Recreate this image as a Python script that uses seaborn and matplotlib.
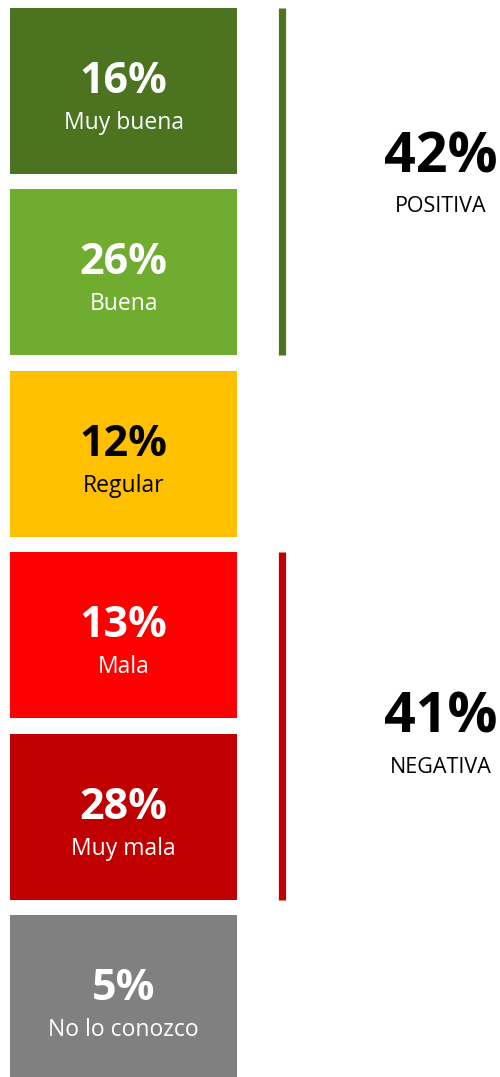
import matplotlib
matplotlib.use("Agg")
import matplotlib.pyplot as plt
import seaborn as sns
import pandas as pd

categories = ["Muy buena", "Buena", "Regular", "Mala", "Muy mala", "No lo conozco"]
values = [16, 26, 12, 13, 28, 5]
colors = ["#4B7320", "#70AC2F", "#FFC000", "#FF0000", "#C00000", "#808080"]
text_colors = ["white", "white", "black", "white", "white", "white"]
box_size = [1, 1, 1, 1, 1, 1]

group_names = ["POSITIVA", "NEGATIVA"]
group_values = [42, 41]
group_spans = [(0, 1), (3, 4)]
group_colors = ["#4B7320", "#C00000"]

sns.set_theme(style="white")
plt.rcParams["font.family"] = ["Open Sans", "DejaVu Sans"]

df = pd.DataFrame({"cat": categories, "box": box_size})

fig = plt.figure(figsize=(5.0, 10.77), dpi=100)
ax = fig.add_axes([0, 0, 1, 1])
bar_h = 166 / 181.4
sns.barplot(data=df, x="box", y="cat", hue="cat", palette=colors, orient="h",
            width=bar_h, legend=False, ax=ax, saturation=1, linewidth=0)

ax.set_xlim(-10 / 227, 490 / 227)
ax.set_ylim(986 / 181.4, -91 / 181.4)
ax.axis("off")

for i, (v, lab, tc) in enumerate(zip(values, categories, text_colors)):
    ax.text(0.5, i + 0.011, f"{v}%", ha="center", va="baseline", color=tc,
            fontsize=31, fontweight="bold")
    ax.text(0.5, i + 0.2095, lab, ha="center", va="baseline", color=tc,
            fontsize=16.5)

line_x = (282 - 10) / 227
half = bar_h / 2
for (a, b), c in zip(group_spans, group_colors):
    ax.vlines(line_x, a - half, b + half, color=c, linewidth=5.2)

group_pct_y = [0.452, 3.539]
group_lab_y = [0.667, 3.760]
gx = (441 - 10) / 227
for name, v, py, ly in zip(group_names, group_values, group_pct_y, group_lab_y):
    ax.text(gx, py, f"{v}%", ha="center", va="baseline", color="black",
            fontsize=40, fontweight="bold")
    ax.text(gx, ly, name, ha="center", va="baseline", color="black",
            fontsize=15.5)

fig.savefig("out.png", dpi=100)
